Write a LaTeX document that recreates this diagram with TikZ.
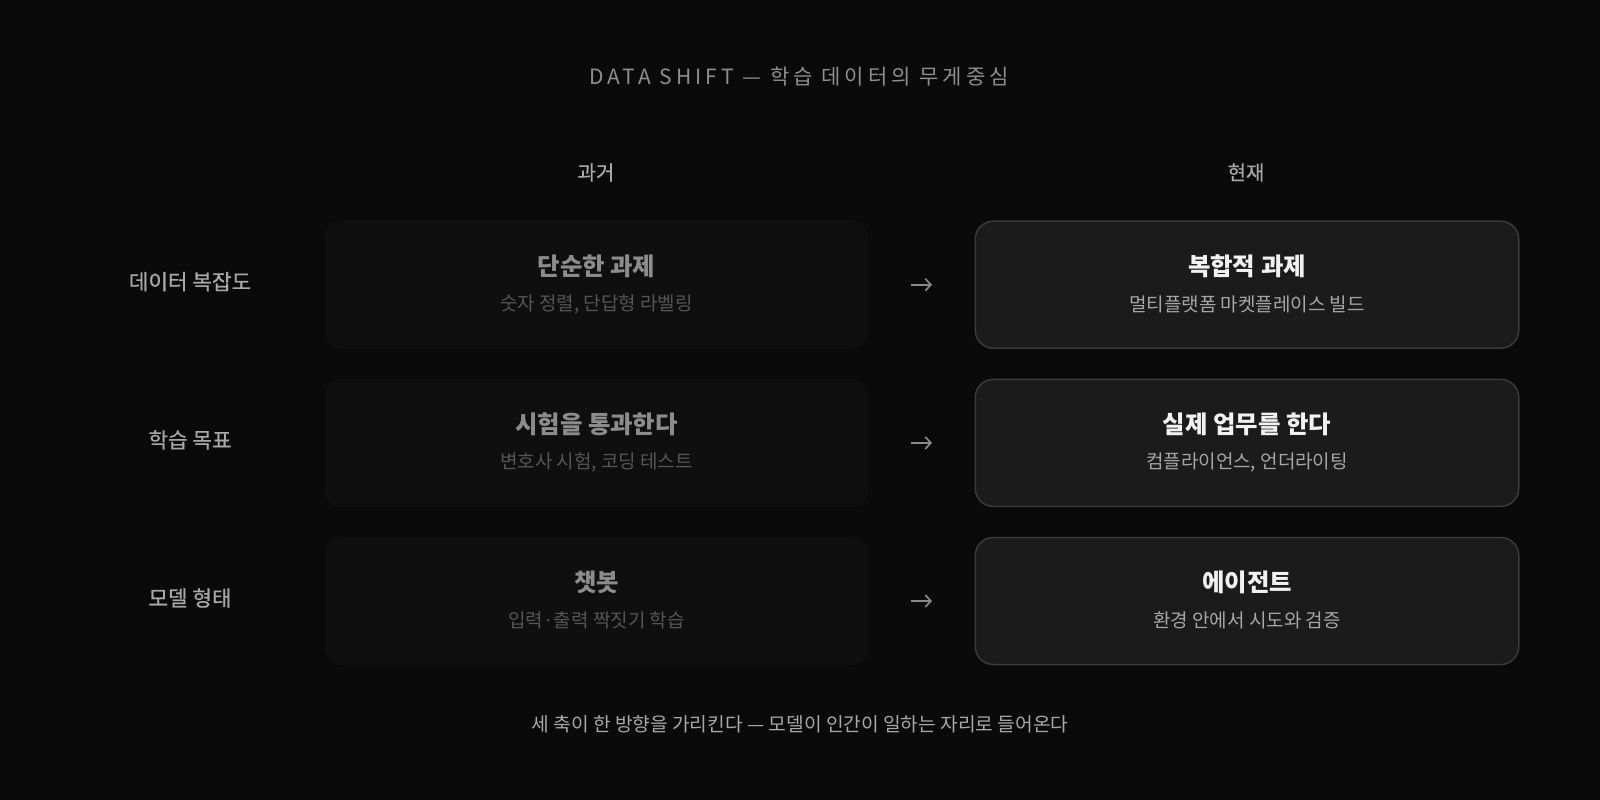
\documentclass[tikz,border=0pt]{standalone}
\usepackage{fontspec}
\setmainfont{Noto Sans CJK KR}
\newfontfamily\spacedfont[LetterSpace=19]{Noto Sans CJK KR}
\newfontfamily\mediumfont[FakeBold=0.6]{Noto Sans CJK KR}
\usepackage{xcolor}
\usetikzlibrary{arrows.meta,positioning,calc}

\definecolor{bgdark}{HTML}{0A0A0A}
\definecolor{pastfill}{HTML}{0F0F0F}
\definecolor{nowfill}{HTML}{1B1B1B}
\definecolor{nowline}{HTML}{3A3A3A}
\definecolor{titlegray}{HTML}{8E8E8E}
\definecolor{headgray}{HTML}{A8A8A8}
\definecolor{pasttitle}{HTML}{8C8C8C}
\definecolor{pastsub}{HTML}{555555}
\definecolor{nowtitle}{HTML}{F2F2F2}
\definecolor{nowsub}{HTML}{A6A6A6}
\definecolor{arrowgray}{HTML}{8A8A8A}

\begin{document}
\begin{tikzpicture}[x=1pt,y=-1pt,
    pastbox/.style={rounded corners=18pt, fill=pastfill, inner sep=0pt,
        minimum width=544pt, minimum height=128.5pt},
    nowbox/.style={rounded corners=18pt, fill=nowfill, draw=nowline, line width=1.5pt,
        inner sep=0pt, minimum width=543.5pt, minimum height=127pt},
    rowlabel/.style={font=\fontsize{21.3}{25}\selectfont\mediumfont, text=headgray},
    colhead/.style={font=\fontsize{20}{24}\selectfont\mediumfont, text=headgray},
    boxtitle/.style={font=\fontsize{24.4}{29}\selectfont\bfseries},
    boxsub/.style={font=\fontsize{19}{23}\selectfont},
    flowarrow/.style={draw=arrowgray, line width=1.7pt, -{Straight Barb[length=5.5pt,width=12pt]},
        shorten <=42.5pt, shorten >=42.5pt}
]
    % Background and frame
    \fill[bgdark] (0,0) rectangle (1600,800);
    \useasboundingbox (0,0) rectangle (1600,800);

    % Title and column heads
    \node[text=titlegray, font=\fontsize{21}{25}\selectfont\spacedfont] (title) at (799,76.5) {DATA SHIFT — 학습 데이터의 무게중심};
    \node[colhead] (pasthead) at (596,172.5) {과거};
    \node[colhead] (nowhead) at (1246,172.5) {현재};

    % Rows: label, past box, present box
    \foreach \y/\lab/\pt/\ps/\nt/\ns [count=\i] in {
        284.7/{데이터 복잡도}/{단순한 과제}/{숫자 정렬, 단답형 라벨링}/{복합적 과제}/{멀티플랫폼 마켓플레이스 빌드},
        442.9/{학습 목표}/{시험을 통과한다}/{변호사 시험, 코딩 테스트}/{실제 업무를 한다}/{컴플라이언스, 언더라이팅},
        601/{모델 형태}/{챗봇}/{입력·출력 짝짓기 학습}/{에이전트}/{환경 안에서 시도와 검증}} {
        \node[rowlabel] (label\i) at (190,\y-3) {\lab};
        \node[pastbox] (past\i) at (596.5,\y) {};
        \node[nowbox] (now\i) at (1247,\y) {};
        \node[boxtitle, text=pasttitle] (pasttitle\i) at (596.5,\y-18.4) {\pt};
        \node[boxsub, text=pastsub] (pastsub\i) at (596.5,\y+19.8) {\ps};
        \node[boxtitle, text=nowtitle] (nowtitle\i) at (1247,\y-18.4) {\nt};
        \node[boxsub, text=nowsub] (nowsub\i) at (1247,\y+19.8) {\ns};
        \draw[flowarrow] (past\i) -- (now\i);
    }

    % Closing line
    \node[text=headgray, font=\fontsize{19.2}{23}\selectfont] (closing) at (800,724) {세 축이 한 방향을 가리킨다 — 모델이 인간이 일하는 자리로 들어온다};
\end{tikzpicture}
\end{document}
